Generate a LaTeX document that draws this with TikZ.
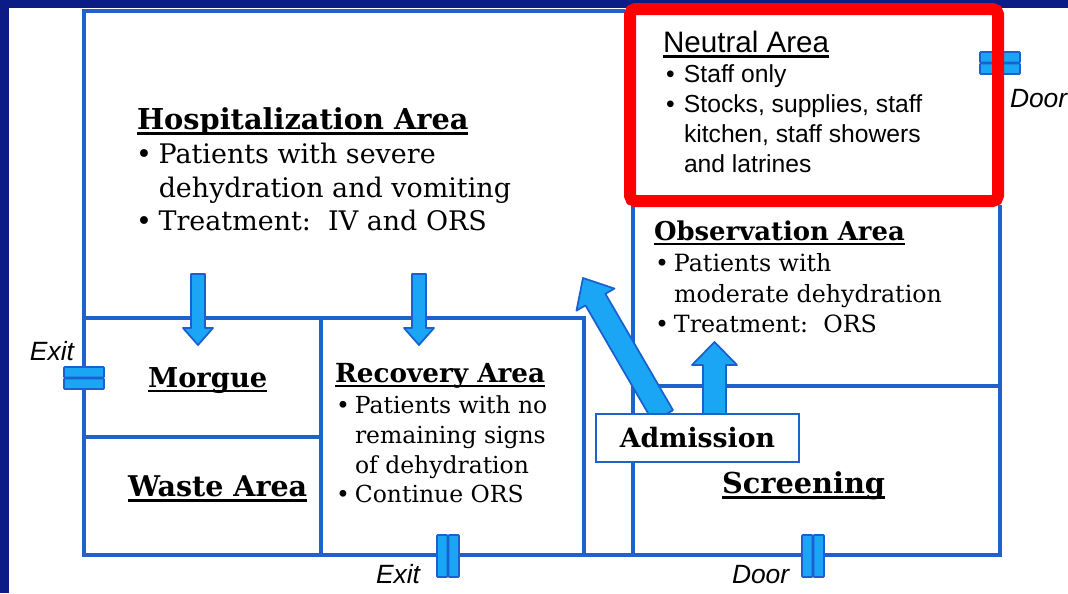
\documentclass[tikz,border=0pt]{standalone}
\usepackage{fontspec}
\setmainfont{DejaVu Serif}
\newfontfamily\sansf{Liberation Sans}
\usetikzlibrary{arrows.meta}
\definecolor{navy}{HTML}{0B1C87}
\definecolor{wallc}{HTML}{1F62CC}
\definecolor{arrfill}{HTML}{1AA5F5}
\definecolor{arrline}{HTML}{1A60D0}
\definecolor{redc}{HTML}{FF0000}
\newcommand\myul[1]{\setbox0\hbox{#1}\rlap{\rule[-0.2em]{\wd0}{0.085em}}\box0}
\newcommand\bl[1]{\makebox[#1][l]{•}}
\tikzset{
  wall/.style={draw=wallc, line width=2.5pt},
  arr/.style={fill=arrfill, draw=arrline, line width=1.3pt, line join=round},
  doorbar/.style={fill=arrfill, draw=arrline, line width=1.2pt, rounded corners=0.6pt},
  txt/.style={anchor=base west, inner sep=0pt, outer sep=0pt},
  head/.style={txt, font=\bfseries},
  lbl/.style={txt, font=\sansf\itshape\fontsize{19.8pt}{22pt}\selectfont},
}
\begin{document}
\begin{tikzpicture}[x=0.75pt,y=-0.75pt]
\useasboundingbox (0,0) rectangle (1068,593);
\fill[white] (0,0) rectangle (1068,593);
\fill[navy] (0,0) rectangle (9,593);
\fill[navy] (0,0) rectangle (1068,8);
% walls
\draw[wall] (625,11) -- (84,11) -- (84,555) -- (1000,555) -- (1000,205);
\draw[wall] (84,318) -- (584,318) -- (584,555);
\draw[wall] (321,318) -- (321,555);
\draw[wall] (84,437) -- (321,437);
\draw[wall] (633,205) -- (633,555);
\draw[wall] (633,386) -- (1000,386);
% neutral area interior
\fill[white] (630,9) rectangle (998,201);
% doors
\draw[doorbar] (980,52) rectangle (1020,62.5);
\draw[doorbar] (980,63.5) rectangle (1020,74);
\draw[doorbar] (64,367) rectangle (104,377.5);
\draw[doorbar] (64,378.5) rectangle (104,389);
\draw[doorbar] (437,535) rectangle (447.5,577);
\draw[doorbar] (448.5,535) rectangle (459,577);
\draw[doorbar] (802,535) rectangle (812.5,577);
\draw[doorbar] (813.5,535) rectangle (824,577);
% neutral area red frame
\draw[redc, line width=9pt, rounded corners=4pt] (630,9) rectangle (998,201);
% arrows
\draw[arr] (191,274) -- (205,274) -- (205,328) -- (213,328) -- (198,345) -- (183,328) -- (191,328) -- cycle;
\draw[arr] (412,274) -- (426,274) -- (426,328) -- (434,328) -- (419,345) -- (404,328) -- (412,328) -- cycle;
\draw[arr] (703,420) -- (703,365) -- (692,365) -- (714.5,342) -- (737,365) -- (726,365) -- (726,420) -- cycle;
\draw[arr] (653,421.8) -- (585.5,305.4) -- (576.5,310.6) -- (583,278) -- (614.5,288.6) -- (605.4,293.8) -- (673,410.2) -- cycle;
% admission box
\node[draw=wallc, line width=1.1pt, fill=white, minimum width=152pt, minimum height=36pt, inner sep=0pt,
      font=\bfseries\fontsize{20pt}{22pt}\selectfont] (adm) at (697.5,438) {Admission};
% hospitalization
\node[head, font=\bfseries\fontsize{21.6pt}{24pt}\selectfont] (hh) at (137,129) {\myul{Hospitalization Area}};
\node[txt, font=\fontsize{20.2pt}{24pt}\selectfont] (h1) at (136,163) {\bl{17pt}Patients with severe};
\node[txt, font=\fontsize{20.2pt}{24pt}\selectfont] (h2) at (158.75,197) {dehydration and vomiting};
\node[txt, font=\fontsize{20.2pt}{24pt}\selectfont] (h3) at (136,230) {\bl{17pt}Treatment:\ \ IV and ORS};
% neutral
\node[txt, font=\sansf\fontsize{22.2pt}{24pt}\selectfont] (nh) at (663,52) {\myul{Neutral Area}};
\node[txt, font=\sansf\fontsize{18.5pt}{22pt}\selectfont] (n1) at (666,82) {\bl{13.5pt}Staff only};
\node[txt, font=\sansf\fontsize{18.5pt}{22pt}\selectfont] (n2) at (666,112) {\bl{13.5pt}Stocks, supplies, staff};
\node[txt, font=\sansf\fontsize{18.5pt}{22pt}\selectfont] (n3) at (684,142) {kitchen, staff showers};
\node[txt, font=\sansf\fontsize{18.5pt}{22pt}\selectfont] (n4) at (684,172) {and latrines};
% observation
\node[head, font=\bfseries\fontsize{19.4pt}{22pt}\selectfont] (oh) at (654,240) {\myul{Observation Area}};
\node[txt, font=\fontsize{17.8pt}{22pt}\selectfont] (o1) at (655,271) {\bl{14.2pt}Patients with};
\node[txt, font=\fontsize{17.8pt}{22pt}\selectfont] (o2) at (674,302) {moderate dehydration};
\node[txt, font=\fontsize{17.8pt}{22pt}\selectfont] (o3) at (655,332) {\bl{14.2pt}Treatment:\ \ ORS};
% recovery
\node[head, font=\bfseries\fontsize{19.7pt}{22pt}\selectfont] (rh) at (335,382) {\myul{Recovery Area}};
\node[txt, font=\fontsize{17.6pt}{20pt}\selectfont] (r1) at (336,413) {\bl{14.2pt}Patients with no};
\node[txt, font=\fontsize{17.6pt}{20pt}\selectfont] (r2) at (355,443) {remaining signs};
\node[txt, font=\fontsize{17.6pt}{20pt}\selectfont] (r3) at (355,473) {of dehydration};
\node[txt, font=\fontsize{17.6pt}{20pt}\selectfont] (r4) at (336,502) {\bl{14.2pt}Continue ORS};
% others
\node[head, font=\bfseries\fontsize{20.5pt}{22pt}\selectfont] (mg) at (148,387) {\myul{Morgue}};
\node[head, font=\bfseries\fontsize{21.4pt}{22pt}\selectfont] (wa) at (128,496) {\myul{Waste Area}};
\node[head, font=\bfseries\fontsize{21.6pt}{22pt}\selectfont] (sc) at (722,493) {\myul{Screening}};
% door labels
\node[lbl] (ex1) at (30,360) {Exit};
\node[lbl] (ex2) at (376,583) {Exit};
\node[lbl] (dr1) at (732,583) {Door};
\node[lbl] (dr2) at (1010,107) {Door};
\end{tikzpicture}
\end{document}
